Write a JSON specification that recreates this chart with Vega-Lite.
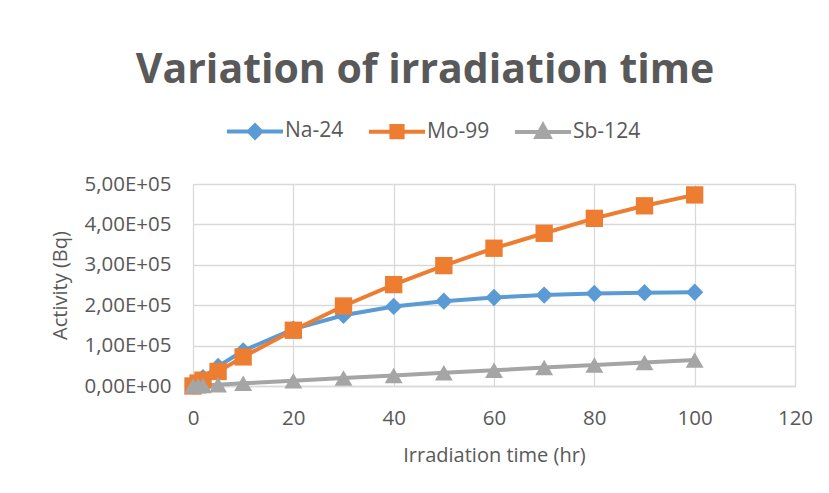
{
  "$schema": "https://vega.github.io/schema/vega-lite/v6.json",
  "width": 602,
  "height": 202,
  "autosize": "none",
  "padding": {"left": 193, "top": 184, "right": 34, "bottom": 107},
  "background": "white",
  "title": {
    "text": "Variation of irradiation time",
    "font": "Open Sans",
    "fontSize": 41,
    "fontWeight": "bold",
    "color": "#595959",
    "anchor": "middle",
    "dx": -69,
    "offset": 9
  },
  "data": {
    "values": [
      {"t": 0, "series": "Na-24", "activity": 0},
      {"t": 1, "series": "Na-24", "activity": 10500},
      {"t": 2, "series": "Na-24", "activity": 20800},
      {"t": 5, "series": "Na-24", "activity": 48500},
      {"t": 10, "series": "Na-24", "activity": 87000},
      {"t": 20, "series": "Na-24", "activity": 141000},
      {"t": 30, "series": "Na-24", "activity": 175000},
      {"t": 40, "series": "Na-24", "activity": 197000},
      {"t": 50, "series": "Na-24", "activity": 210000},
      {"t": 60, "series": "Na-24", "activity": 219000},
      {"t": 70, "series": "Na-24", "activity": 225000},
      {"t": 80, "series": "Na-24", "activity": 229000},
      {"t": 90, "series": "Na-24", "activity": 231000},
      {"t": 100, "series": "Na-24", "activity": 232000},
      {"t": 0, "series": "Mo-99", "activity": 0},
      {"t": 1, "series": "Mo-99", "activity": 7300},
      {"t": 2, "series": "Mo-99", "activity": 14500},
      {"t": 5, "series": "Mo-99", "activity": 36000},
      {"t": 10, "series": "Mo-99", "activity": 72000},
      {"t": 20, "series": "Mo-99", "activity": 138000},
      {"t": 30, "series": "Mo-99", "activity": 198000},
      {"t": 40, "series": "Mo-99", "activity": 251000},
      {"t": 50, "series": "Mo-99", "activity": 298000},
      {"t": 60, "series": "Mo-99", "activity": 341000},
      {"t": 70, "series": "Mo-99", "activity": 378000},
      {"t": 80, "series": "Mo-99", "activity": 415000},
      {"t": 90, "series": "Mo-99", "activity": 446000},
      {"t": 100, "series": "Mo-99", "activity": 473000},
      {"t": 0, "series": "Sb-124", "activity": 0},
      {"t": 1, "series": "Sb-124", "activity": 700},
      {"t": 2, "series": "Sb-124", "activity": 1300},
      {"t": 5, "series": "Sb-124", "activity": 3300},
      {"t": 10, "series": "Sb-124", "activity": 6600},
      {"t": 20, "series": "Sb-124", "activity": 13200},
      {"t": 30, "series": "Sb-124", "activity": 19800},
      {"t": 40, "series": "Sb-124", "activity": 26200},
      {"t": 50, "series": "Sb-124", "activity": 32700},
      {"t": 60, "series": "Sb-124", "activity": 39100},
      {"t": 70, "series": "Sb-124", "activity": 45500},
      {"t": 80, "series": "Sb-124", "activity": 51800},
      {"t": 90, "series": "Sb-124", "activity": 58200},
      {"t": 100, "series": "Sb-124", "activity": 64500}
    ]
  },
  "encoding": {
    "x": {
      "field": "t",
      "type": "quantitative",
      "scale": {"domain": [0, 120], "nice": false, "zero": false},
      "axis": {
        "values": [0, 20, 40, 60, 80, 100, 120],
        "title": "Irradiation time (hr)",
        "grid": true,
        "domain": true,
        "ticks": false,
        "labelFlush": false,
        "labelPadding": 22,
        "titlePadding": 17
      }
    },
    "y": {
      "field": "activity",
      "type": "quantitative",
      "scale": {"domain": [0, 500000], "nice": false},
      "axis": {
        "values": [0, 100000, 200000, 300000, 400000, 500000],
        "title": "Activity (Bq)",
        "grid": true,
        "domain": false,
        "ticks": false,
        "labelFlush": false,
        "labelPadding": 22,
        "titlePadding": 13,
        "labelExpr": "datum.value == 0 ? '0,00E+00' : replace(format(datum.value / 100000, '.2f'), '.', ',') + 'E+05'"
      }
    },
    "color": {
      "field": "series",
      "type": "nominal",
      "scale": {"domain": ["Na-24", "Mo-99", "Sb-124"], "range": ["#5B9BD5", "#ED7D31", "#A5A5A5"]},
      "legend": {
        "orient": "none",
        "legendX": 32,
        "legendY": -83,
        "direction": "horizontal",
        "title": null,
        "symbolSize": 3136,
        "symbolStrokeWidth": 4,
        "labelFont": "Open Sans",
        "labelFontSize": 21,
        "labelColor": "#595959",
        "labelOffset": 0,
        "columnPadding": 17,
        "encode": {
          "symbols": {
            "update": {
              "shape": {"signal": "datum.value === 'Na-24' ? 'M-1,0H1M-0.22,0L0,-0.22L0.22,0L0,0.22Z' : datum.value === 'Mo-99' ? 'M-1,0H1M-0.2,-0.2H0.2V0.2H-0.2Z' : 'M-1,0H1M0,-0.25L0.23,0.17H-0.23Z'"},
              "fill": {"signal": "scale('color', datum.value)"},
              "stroke": {"signal": "scale('color', datum.value)"},
              "opacity": {"value": 1},
              "strokeWidth": {"value": 4}
            }
          }
        }
      }
    }
  },
  "layer": [
    {"mark": {"type": "line", "strokeWidth": 4}},
    {
      "transform": [{"filter": "datum.series === 'Na-24'"}],
      "mark": {"type": "point", "filled": true, "opacity": 1, "size": 300, "shape": "diamond"}
    },
    {
      "transform": [{"filter": "datum.series === 'Mo-99'"}],
      "mark": {"type": "point", "filled": true, "opacity": 1, "size": 300, "shape": "square"}
    },
    {
      "transform": [{"filter": "datum.series === 'Sb-124'"}],
      "mark": {"type": "point", "filled": true, "opacity": 1, "size": 320, "shape": "triangle-up"}
    }
  ],
  "config": {
    "view": {"stroke": null},
    "axis": {
      "gridColor": "#D9D9D9",
      "gridWidth": 1.3,
      "domainColor": "#D9D9D9",
      "domainWidth": 1.3,
      "labelFont": "Open Sans",
      "labelFontSize": 20.5,
      "labelColor": "#595959",
      "titleFont": "Open Sans",
      "titleFontSize": 20,
      "titleFontWeight": "normal",
      "titleColor": "#595959"
    }
  }
}
